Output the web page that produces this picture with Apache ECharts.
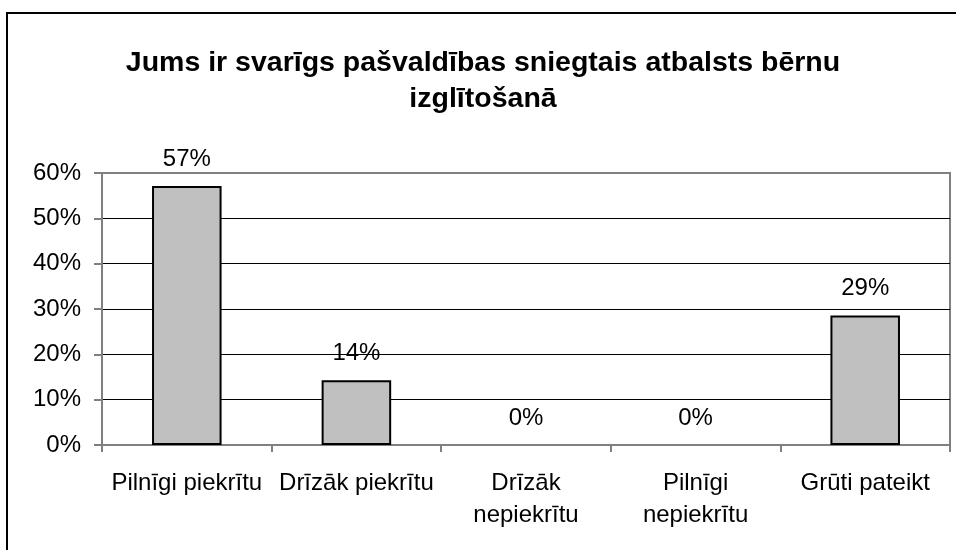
<!DOCTYPE html>
<html>
<head>
<meta charset="utf-8">
<script src="https://cdn.jsdelivr.net/npm/echarts@6/dist/echarts.min.js"></script>
<style>html,body{margin:0;padding:0;background:#fff;}#c{width:956px;height:550px;}</style>
</head>
<body>
<div id="c"></div>
<script>
var titleText = 'Jums ir svarīgs pašvaldības sniegtais atbalsts bērnu\nizglītošanā';
var categories = ['Pilnīgi piekrītu', 'Drīzāk piekrītu', 'Drīzāk\nnepiekrītu', 'Pilnīgi\nnepiekrītu', 'Grūti pateikt'];
var values = [57.14, 14.29, 0, 0, 28.57];
var yTicks = [0, 10, 20, 30, 40, 50, 60];

var font = 'Liberation Sans, Arial, sans-serif';
var chart = echarts.init(document.getElementById('c'), null, {renderer: 'canvas'});
chart.setOption({
  animation: false,
  backgroundColor: '#fff',
  graphic: [{
    type: 'rect', z: 100, silent: true,
    shape: {x: 7, y: 13, width: 1000, height: 600},
    style: {fill: 'none', stroke: '#000', lineWidth: 2}
  }],
  title: {
    text: titleText,
    left: 478, textAlign: 'center', top: 40,
    textStyle: {fontFamily: font, fontWeight: 'bold', fontSize: 28.5, lineHeight: 36, color: '#000'}
  },
  grid: {left: 102, right: 6, top: 173, bottom: 105, show: true, borderColor: '#808080', borderWidth: 2, backgroundColor: '#fff'},
  xAxis: {
    type: 'category', data: categories,
    axisLine: {lineStyle: {color: '#808080', width: 2}},
    axisTick: {show: true, length: 7, lineStyle: {color: '#808080', width: 2}},
    axisLabel: {
      interval: 0, margin: 22, color: '#000', fontFamily: font, fontSize: 24, lineHeight: 32
    }
  },
  yAxis: {
    type: 'value', min: yTicks[0], max: yTicks[yTicks.length - 1], interval: 10,
    axisLine: {show: true, lineStyle: {color: '#808080', width: 2}},
    axisTick: {show: true, length: 8, lineStyle: {color: '#808080', width: 2}},
    axisLabel: {margin: 21, color: '#000', fontFamily: font, fontSize: 24, formatter: function (v) { return v + '%'; }},
    splitLine: {show: true, lineStyle: {color: ['#000', '#000', '#000', '#000', '#000', '#000', '#808080'], width: 1}}
  },
  series: [{
    type: 'bar', barWidth: '41%',
    data: values.map(function (v) { return v === 0 ? {value: v, itemStyle: {borderWidth: 0}} : v; }),
    itemStyle: {color: '#C0C0C0', borderColor: '#000', borderWidth: 2},
    label: {
      show: true, position: 'top', distance: 15, color: '#000', fontFamily: font, fontSize: 24, lineHeight: 24,
      formatter: function (p) { return Math.round(p.value) + '%'; }
    }
  }]
});
</script>
</body>
</html>
